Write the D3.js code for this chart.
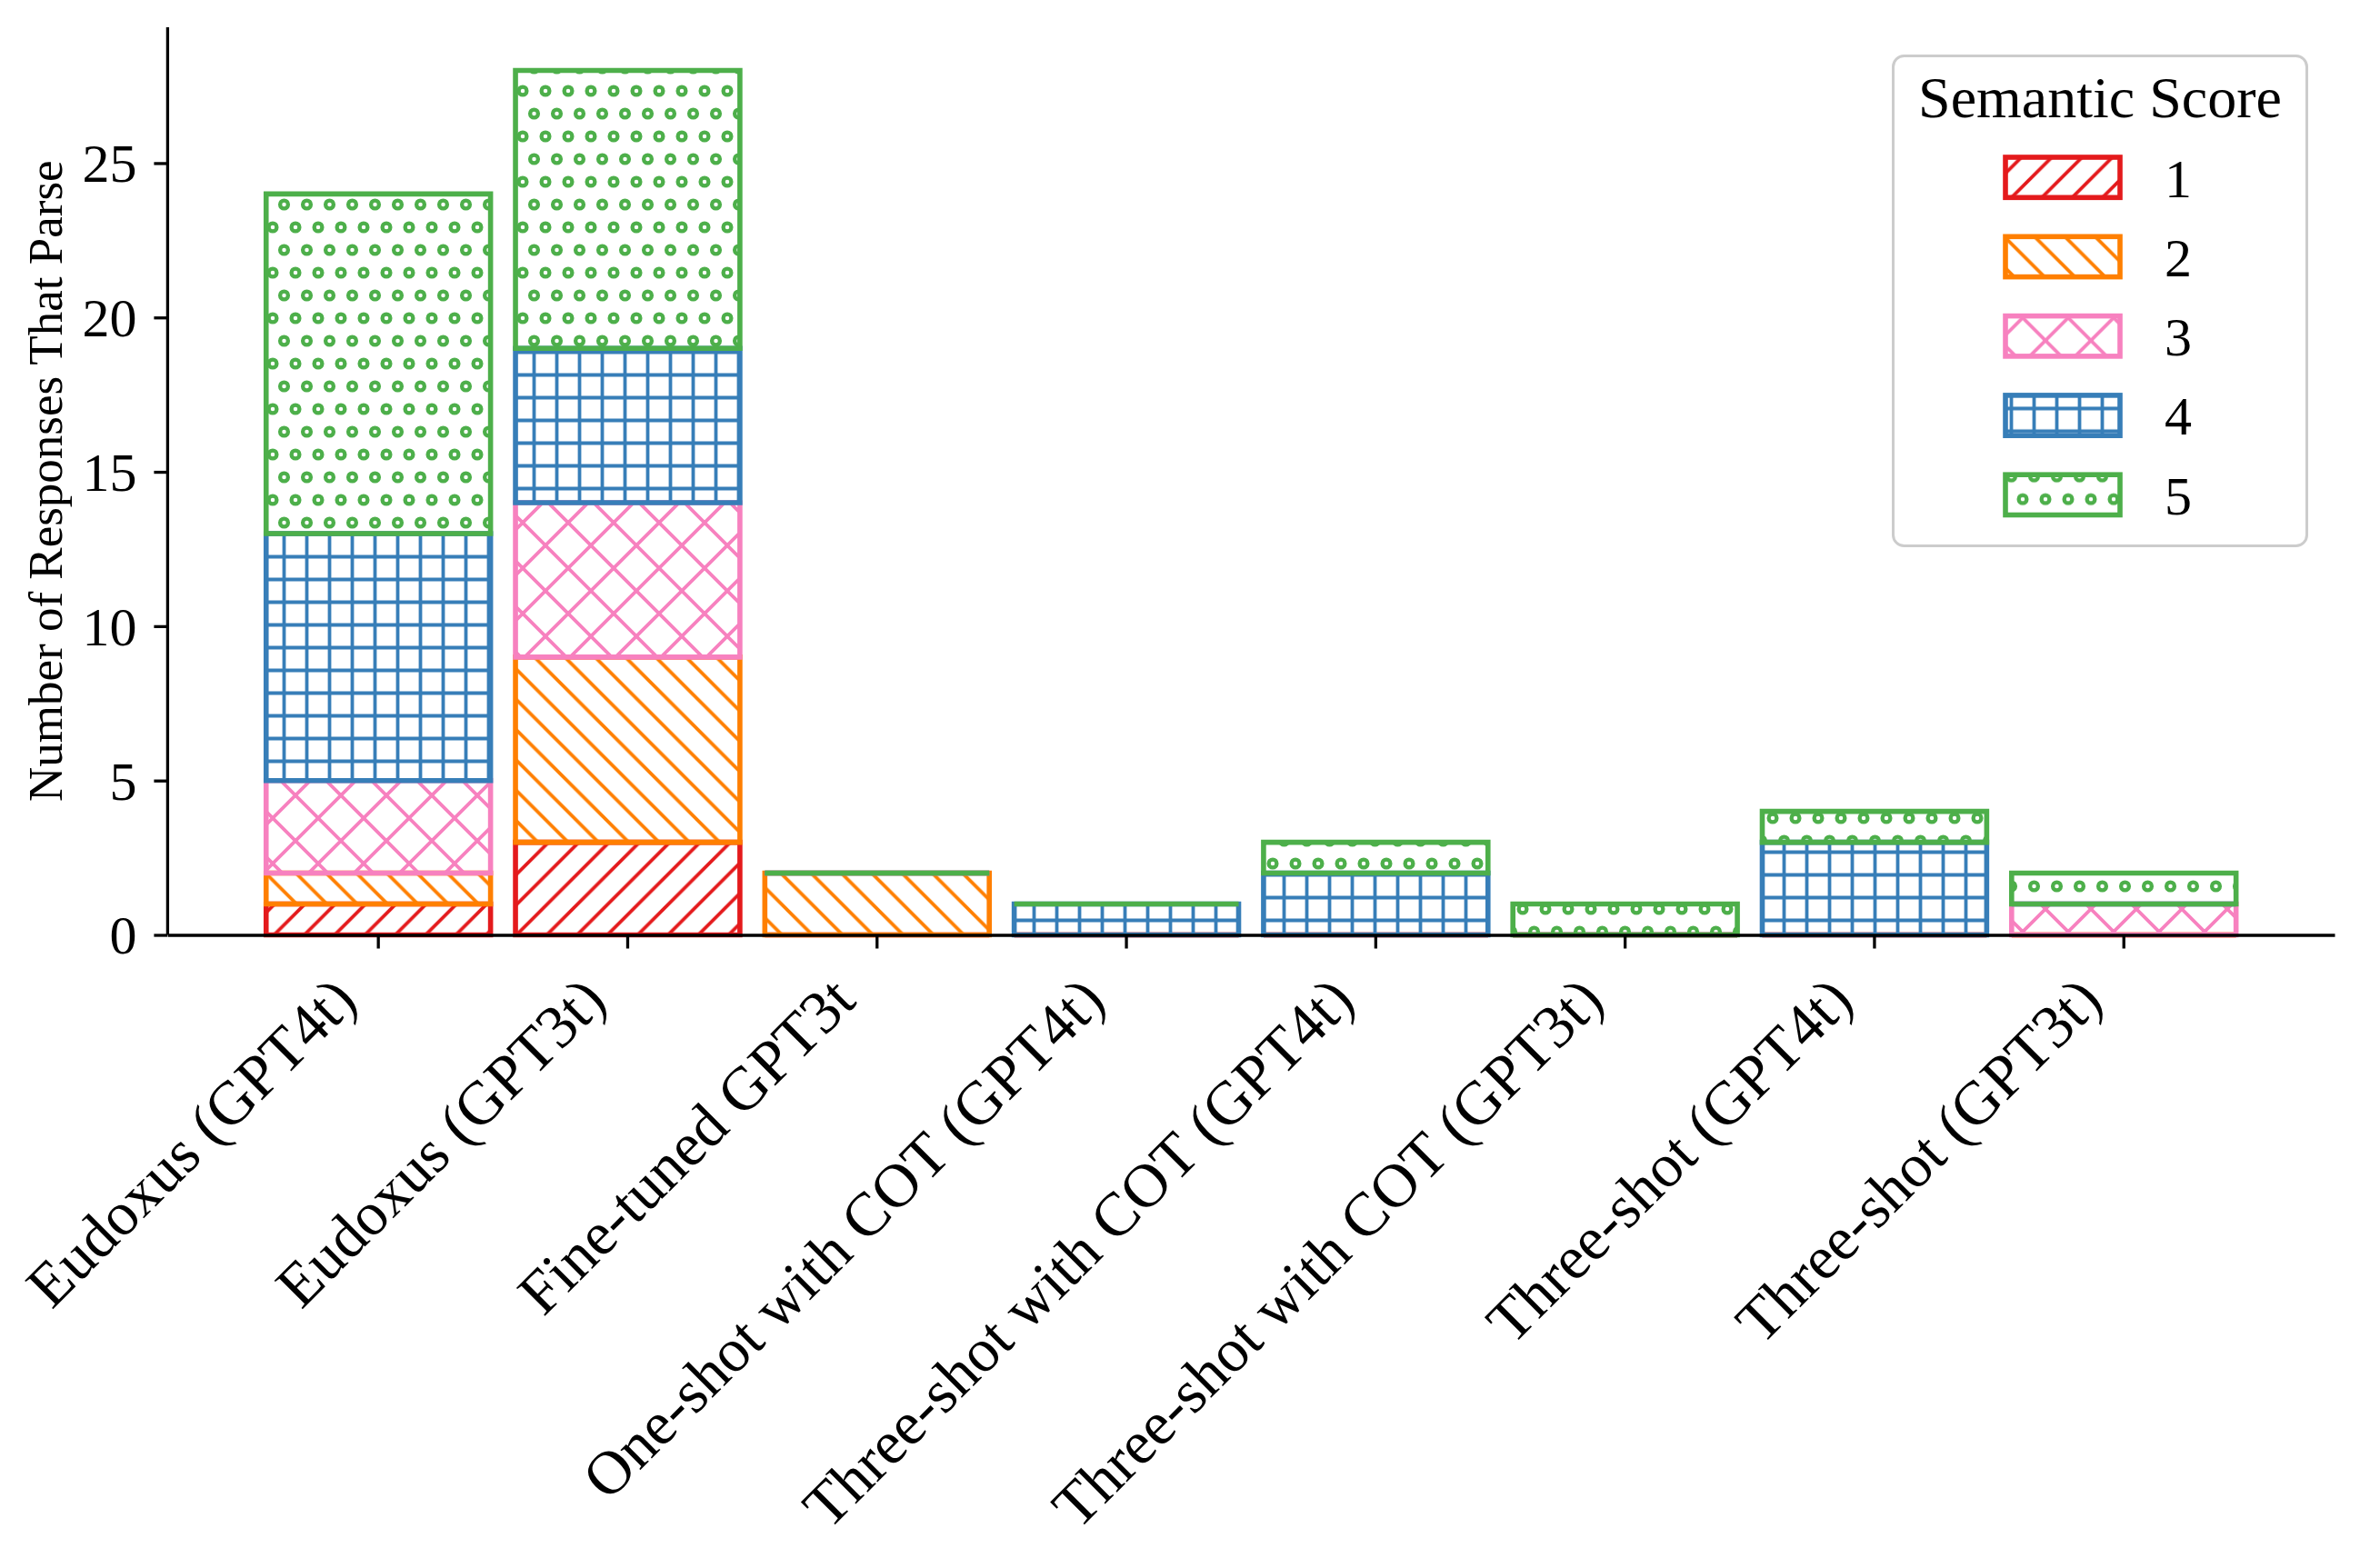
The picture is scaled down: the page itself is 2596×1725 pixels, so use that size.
<!DOCTYPE html>
<html>
<head>
<meta charset="utf-8">
<style>
  body { margin: 0; background: #fff; }
  svg { display: block; font-family: "Liberation Serif", "Times New Roman", serif; }
</style>
</head>
<body>
<svg width="2596" height="1725"></svg>
<script src="https://d3js.org/d3.v7.min.js"></script>
<script>
// data
const categories = [
    "Eudoxus (GPT4t)",
    "Eudoxus (GPT3t)",
    "Fine-tuned GPT3t",
    "One-shot with COT (GPT4t)",
    "Three-shot with COT (GPT4t)",
    "Three-shot with COT (GPT3t)",
    "Three-shot (GPT4t)",
    "Three-shot (GPT3t)"
];
const scoreLabels = ["1", "2", "3", "4", "5"];
const score1 = [1, 3, 0, 0, 0, 0, 0, 0];
const score2 = [1, 6, 2, 0, 0, 0, 0, 0];
const score3 = [3, 5, 0, 0, 0, 0, 0, 1];
const score4 = [8, 5, 0, 1, 2, 0, 3, 0];
const score5 = [11, 9, 0, 0, 1, 1, 1, 1];
const yTickValues = [0, 5, 10, 15, 20, 25];

const seriesValues = [score1, score2, score3, score4, score5];
const colors = ["#e41a1c", "#ff7f00", "#f781bf", "#377eb8", "#4daf4a"];

const width = 2596, height = 1725;
const axLeft = 184.4, axRight = 2568, axTop = 30, axBottom = 1028.5;

const svg = d3.select("svg");

// table for d3.stack
const table = categories.map((c, i) => {
    const row = {category: c};
    scoreLabels.forEach((s, k) => row[s] = seriesValues[k][i]);
    return row;
});
const stacked = d3.stack().keys(scoreLabels)(table);

const x = d3.scaleBand()
    .domain(categories)
    .range([axLeft, axRight])
    .paddingInner(0.1)
    .paddingOuter(0.395);

const yMax = d3.max(stacked[stacked.length - 1], d => d[1]) * 1.05;
const y = d3.scaleLinear()
    .domain([0, yMax])
    .range([axBottom, axTop]);

// hatch patterns (anchored to the page like matplotlib does)
const defs = svg.append("defs");
const hatchW = 3.8;

function slashPath(T) {
    let p = "";
    [-T, 0, T, 2 * T, 3 * T].forEach(c => {
        p += `M${c + T},${-T}L${c - 2 * T},${2 * T}`;
    });
    return p;
}
function backslashPath(T) {
    let p = "";
    [-2 * T, -T, 0, T, 2 * T].forEach(c => {
        p += `M${c - T},${-T}L${c + 2 * T},${2 * T}`;
    });
    return p;
}

// 1: "/"
defs.append("pattern")
    .attr("id", "hatch-1")
    .attr("patternUnits", "userSpaceOnUse")
    .attr("x", 30).attr("y", 0)
    .attr("width", 100 / 3).attr("height", 100 / 3)
    .append("path")
    .attr("d", slashPath(100 / 3))
    .attr("stroke", colors[0]).attr("stroke-width", hatchW).attr("fill", "none");

// 2: "\"
defs.append("pattern")
    .attr("id", "hatch-2")
    .attr("patternUnits", "userSpaceOnUse")
    .attr("x", 31.7).attr("y", 0)
    .attr("width", 100 / 3).attr("height", 100 / 3)
    .append("path")
    .attr("d", backslashPath(100 / 3))
    .attr("stroke", colors[1]).attr("stroke-width", hatchW).attr("fill", "none");

// 3: "x"
defs.append("pattern")
    .attr("id", "hatch-3")
    .attr("patternUnits", "userSpaceOnUse")
    .attr("x", 0).attr("y", 0)
    .attr("width", 50).attr("height", 50)
    .append("path")
    .attr("d", slashPath(50) + backslashPath(50))
    .attr("stroke", colors[2]).attr("stroke-width", hatchW).attr("fill", "none");

// 4: "+"
defs.append("pattern")
    .attr("id", "hatch-4")
    .attr("patternUnits", "userSpaceOnUse")
    .attr("x", 0).attr("y", 0)
    .attr("width", 25).attr("height", 25)
    .append("path")
    .attr("d", "M12.5,-1V26M-1,12.5H26")
    .attr("stroke", colors[3]).attr("stroke-width", hatchW).attr("fill", "none");

// 5: "o"
const p5 = defs.append("pattern")
    .attr("id", "hatch-5")
    .attr("patternUnits", "userSpaceOnUse")
    .attr("x", 0).attr("y", 0)
    .attr("width", 25).attr("height", 50);
[[0, 0], [25, 0], [0, 50], [25, 50], [12.5, 25]].forEach(([cx, cy]) => {
    p5.append("circle")
        .attr("cx", cx).attr("cy", cy).attr("r", 4.4)
        .attr("fill", "none")
        .attr("stroke", colors[4])
        .attr("stroke-width", 4.3);
});

// bars, drawn as paths so that zero-height segments still show their edge
const segPath = (x0, y0, x1, y1) => `M${x0},${y0}H${x1}V${y1}H${x0}Z`;

svg.append("g")
    .selectAll("g")
    .data(stacked)
    .join("g")
    .attr("stroke", (d, i) => colors[i])
    .attr("stroke-width", 5.6)
    .attr("stroke-linejoin", "miter")
    .attr("fill", (d, i) => `url(#hatch-${i + 1})`)
    .selectAll("path")
    .data(d => d.map(v => ({v, cat: v.data.category})))
    .join("path")
    .attr("d", d => segPath(x(d.cat), y(d.v[0]), x(d.cat) + x.bandwidth(), y(d.v[1])));

// axes
const yAxis = svg.append("g")
    .attr("transform", `translate(${axLeft},0)`)
    .call(d3.axisLeft(y).tickValues(yTickValues).tickSize(15).tickSizeOuter(0).tickPadding(19));
yAxis.attr("font-family", null).attr("font-size", 60);
yAxis.select(".domain").attr("stroke-width", 3.3).attr("d", `M0,${axTop}V${axBottom}`);
yAxis.selectAll(".tick line").attr("stroke-width", 3.3);
yAxis.selectAll(".tick text").attr("fill", "#000").attr("dy", "0.34em");

const xAxis = svg.append("g")
    .attr("transform", `translate(0,${axBottom})`)
    .call(d3.axisBottom(x).tickSize(15).tickSizeOuter(0));
xAxis.attr("font-family", null).attr("font-size", 67.5);
xAxis.select(".domain").attr("stroke-width", 3.3);
xAxis.selectAll(".tick line").attr("stroke-width", 3.3);
xAxis.selectAll(".tick text")
    .attr("fill", "#000")
    .attr("x", 0).attr("y", 0).attr("dy", null)
    .attr("text-anchor", "end")
    .attr("transform", "translate(-21,75) rotate(-45)");

// y label
svg.append("text")
    .attr("transform", `translate(68,${(axTop + axBottom) / 2}) rotate(-90)`)
    .attr("text-anchor", "middle")
    .attr("font-size", 53)
    .attr("fill", "#000")
    .text("Number of Responses That Parse");

// legend
const legend = svg.append("g");
legend.append("rect")
    .attr("x", 2082.5).attr("y", 61.5)
    .attr("width", 455).attr("height", 539)
    .attr("rx", 12).attr("ry", 12)
    .attr("fill", "#fff").attr("fill-opacity", 0.8)
    .attr("stroke", "#cccccc").attr("stroke-width", 3);
legend.append("text")
    .attr("x", 2310).attr("y", 128.5)
    .attr("text-anchor", "middle")
    .attr("font-size", 64)
    .attr("fill", "#000")
    .text("Semantic Score");

const rows = legend.selectAll("g.row")
    .data(scoreLabels)
    .join("g")
    .attr("class", "row")
    .attr("transform", (d, i) => `translate(0,${i * 87.3})`);
rows.append("rect")
    .attr("x", 2206).attr("y", 173)
    .attr("width", 126).attr("height", 44.3)
    .attr("fill", (d, i) => `url(#hatch-${i + 1})`)
    .attr("stroke", (d, i) => colors[i])
    .attr("stroke-width", 5.6);
rows.append("text")
    .attr("x", 2381).attr("y", 216.5)
    .attr("font-size", 60)
    .attr("fill", "#000")
    .text(d => d);
</script>
</body>
</html>
